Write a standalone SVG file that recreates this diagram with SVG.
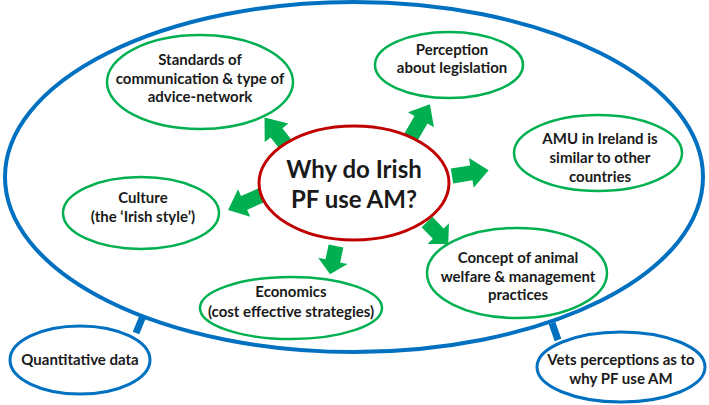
<svg xmlns="http://www.w3.org/2000/svg" width="709" height="405" viewBox="0 0 709 405">
<style>
.g{fill:#fff;stroke:#00B050;stroke-width:2.5}
.b{fill:none;stroke:#0070C0;stroke-width:4}
.bs{fill:#fff;stroke:#0070C0;stroke-width:3}
.r{fill:#fff;stroke:#C00000;stroke-width:3}
.t{font-family:Lato,"Open Sans","Liberation Sans",sans-serif;font-weight:bold;font-size:15px;fill:#1a1a1a;text-anchor:middle}
.big{font-size:24px}
.ar{fill:#00B050}
.bar{stroke:#0070C0;stroke-width:7}
</style>
<defs>
<path id="arr" d="M0,-7.5 H19 V-15 L36,0 L19,15 V7.5 H0 Z"/>
</defs>
<g id="frame"><ellipse class="b" cx="354" cy="177" rx="349" ry="175"/></g>
<g id="connectors">
<line class="bar" x1="136" y1="333" x2="143" y2="316"/>
<line class="bar" x1="558" y1="340" x2="552" y2="323"/>
<use href="#arr" class="ar" transform="translate(290,150) rotate(-128) scale(1.15,1)"/>
<use href="#arr" class="ar" transform="translate(411,137) rotate(-60) scale(1.05,1)"/>
<use href="#arr" class="ar" transform="translate(452,176) rotate(-9) scale(1.03,1)"/>
<use href="#arr" class="ar" transform="translate(262,195) rotate(156) scale(1.03,1)"/>
<use href="#arr" class="ar" transform="translate(336,246) rotate(102) scale(0.8,1)"/>
<use href="#arr" class="ar" transform="translate(427,222) rotate(46) scale(0.85,1)"/>
</g>
<g id="center"><ellipse class="r" cx="354" cy="183" rx="95" ry="57"/>
<text class="t big" x="354" y="178">Why do Irish</text><text class="t big" x="354" y="208">PF use AM?</text></g>
<g id="standards"><ellipse class="g" cx="200" cy="82" rx="93" ry="47"/>
<text class="t" x="200" y="65">Standards  of</text><text class="t" x="200" y="84">communication  &amp; type of</text><text class="t" x="200" y="102">advice-network</text></g>
<g id="perception"><ellipse class="g" cx="449" cy="65" rx="74" ry="33"/>
<text class="t" x="452" y="55">Perception</text><text class="t" x="452" y="73">about  legislation</text></g>
<g id="amu"><ellipse class="g" cx="598" cy="153" rx="84" ry="38"/>
<text class="t" x="600" y="144">AMU in Ireland is</text><text class="t" x="600" y="163">similar to other</text><text class="t" x="600" y="182">countries</text></g>
<g id="culture"><ellipse class="g" cx="141" cy="213" rx="78" ry="36"/>
<text class="t" x="143" y="203">Culture</text><text class="t" x="143" y="222">(the ‘Irish  style’)</text></g>
<g id="economics"><ellipse class="g" cx="291" cy="308" rx="91" ry="31"/>
<text class="t" x="291" y="297">Economics</text><text class="t" x="291" y="317">(cost effective strategies)</text></g>
<g id="concept"><ellipse class="g" cx="517" cy="273" rx="90" ry="45"/>
<text class="t" x="518" y="263">Concept of animal</text><text class="t" x="518" y="282">welfare &amp; management</text><text class="t" x="518" y="300">practices</text></g>
<g id="quant"><ellipse class="bs" cx="80" cy="360" rx="70" ry="34"/>
<text class="t" x="80" y="365">Quantitative  data</text></g>
<g id="vets"><ellipse class="bs" cx="621" cy="367" rx="84" ry="35"/>
<text class="t" x="621" y="365">Vets perceptions as to</text><text class="t" x="621" y="384">why PF use AM</text></g>
</svg>
